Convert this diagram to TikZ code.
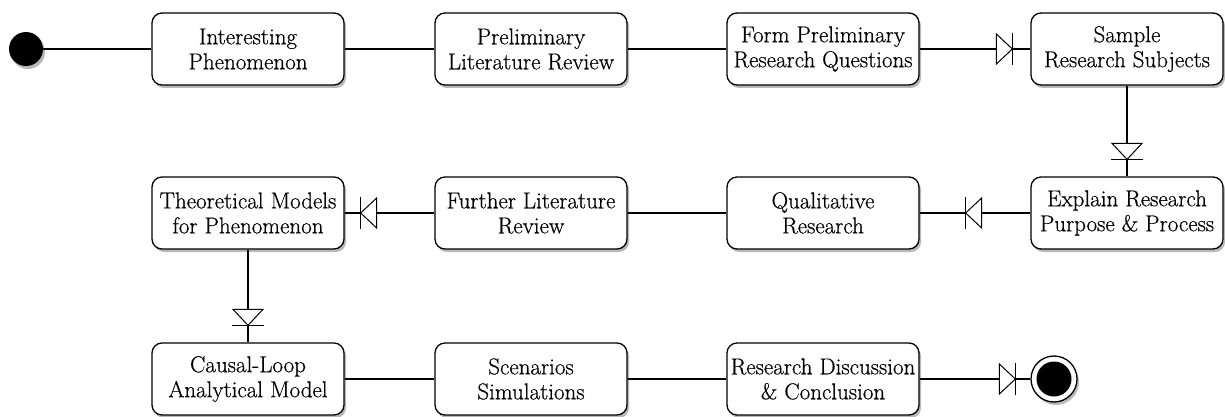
\documentclass[tikz,border=0pt]{standalone}
\usepackage{fontspec}
\newfontfamily\lmr{Latin Modern Roman}[FakeBold=0.5]
\usetikzlibrary{shadows,calc}
\tikzset{
  shad/.style={drop shadow={shadow xshift=2pt, shadow yshift=-3pt, opacity=0.28, fill=black}},
  box/.style={draw, line width=1.3pt, rounded corners=10pt, minimum width=192pt, minimum height=72pt,
    fill=white, align=center, inner sep=0pt, font=\lmr\fontsize{23}{25}\selectfont, shad},
  conn/.style={line width=1.3pt},
  diode/.pic={
    \draw[line width=1pt, fill=white] (-16,-15) -- (0,0) -- (-16,15) -- cycle;
    \draw[line width=1.3pt] (0,-16) -- (0,16);
  }
}
\begin{document}
\begin{tikzpicture}[x=1pt, y=-1pt]
\useasboundingbox (0,0) rectangle (1225,417);
% nodes
\node[circle, fill=black, minimum size=34pt, inner sep=0pt, shad] (start) at (26,49) {};
\node[box] (b1) at (248,49) {Interesting\\Phenomenon};
\node[box] (b2) at (531,49) {Preliminary\\Literature Review};
\node[box] (b3) at (823,49) {Form Preliminary\\Research Questions};
\node[box] (b4) at (1127,49) {Sample\\Research Subjects};
\node[box] (b5) at (1127,213) {Explain Research\\Purpose \& Process};
\node[box] (b6) at (823,213) {Qualitative\\Research};
\node[box] (b7) at (531,213) {Further Literature\\Review};
\node[box] (b8) at (248,213) {Theoretical Models\\for Phenomenon};
\node[box] (b9) at (248,379) {Causal-Loop\\Analytical Model};
\node[box] (b10) at (531,379) {Scenarios\\Simulations};
\node[box] (b11) at (823,379) {Research Discussion\\\& Conclusion};
\node[circle, draw, line width=1.3pt, fill=white, minimum size=46pt, inner sep=0pt, shad] (end) at (1054,379) {};
\node[circle, fill=black, minimum size=35pt, inner sep=0pt] (endin) at (end.center) {};
% connectors
\draw[conn] (start) -- (b1);
\draw[conn] (b1) -- (b2);
\draw[conn] (b2) -- (b3);
\draw[conn] (b3) -- (b4);
\draw[conn] (b4) -- (b5);
\draw[conn] (b5) -- (b6);
\draw[conn] (b6) -- (b7);
\draw[conn] (b7) -- (b8);
\draw[conn] (b8) -- (b9);
\draw[conn] (b9) -- (b10);
\draw[conn] (b10) -- (b11);
\draw[conn] (b11) -- (end);
% arrowheads
\pic at ($(b4.west)+(-18,0)$) {diode};
\pic[rotate=-90] at ($(b5.north)+(0,-17)$) {diode};
\pic[rotate=180] at ($(b6.east)+(46,0)$) {diode};
\pic[rotate=180] at ($(b8.east)+(16,0)$) {diode};
\pic[rotate=-90] at ($(b9.north)+(0,-17)$) {diode};
\pic at ($(end.west)+(-15,0)$) {diode};
\end{tikzpicture}
\end{document}
